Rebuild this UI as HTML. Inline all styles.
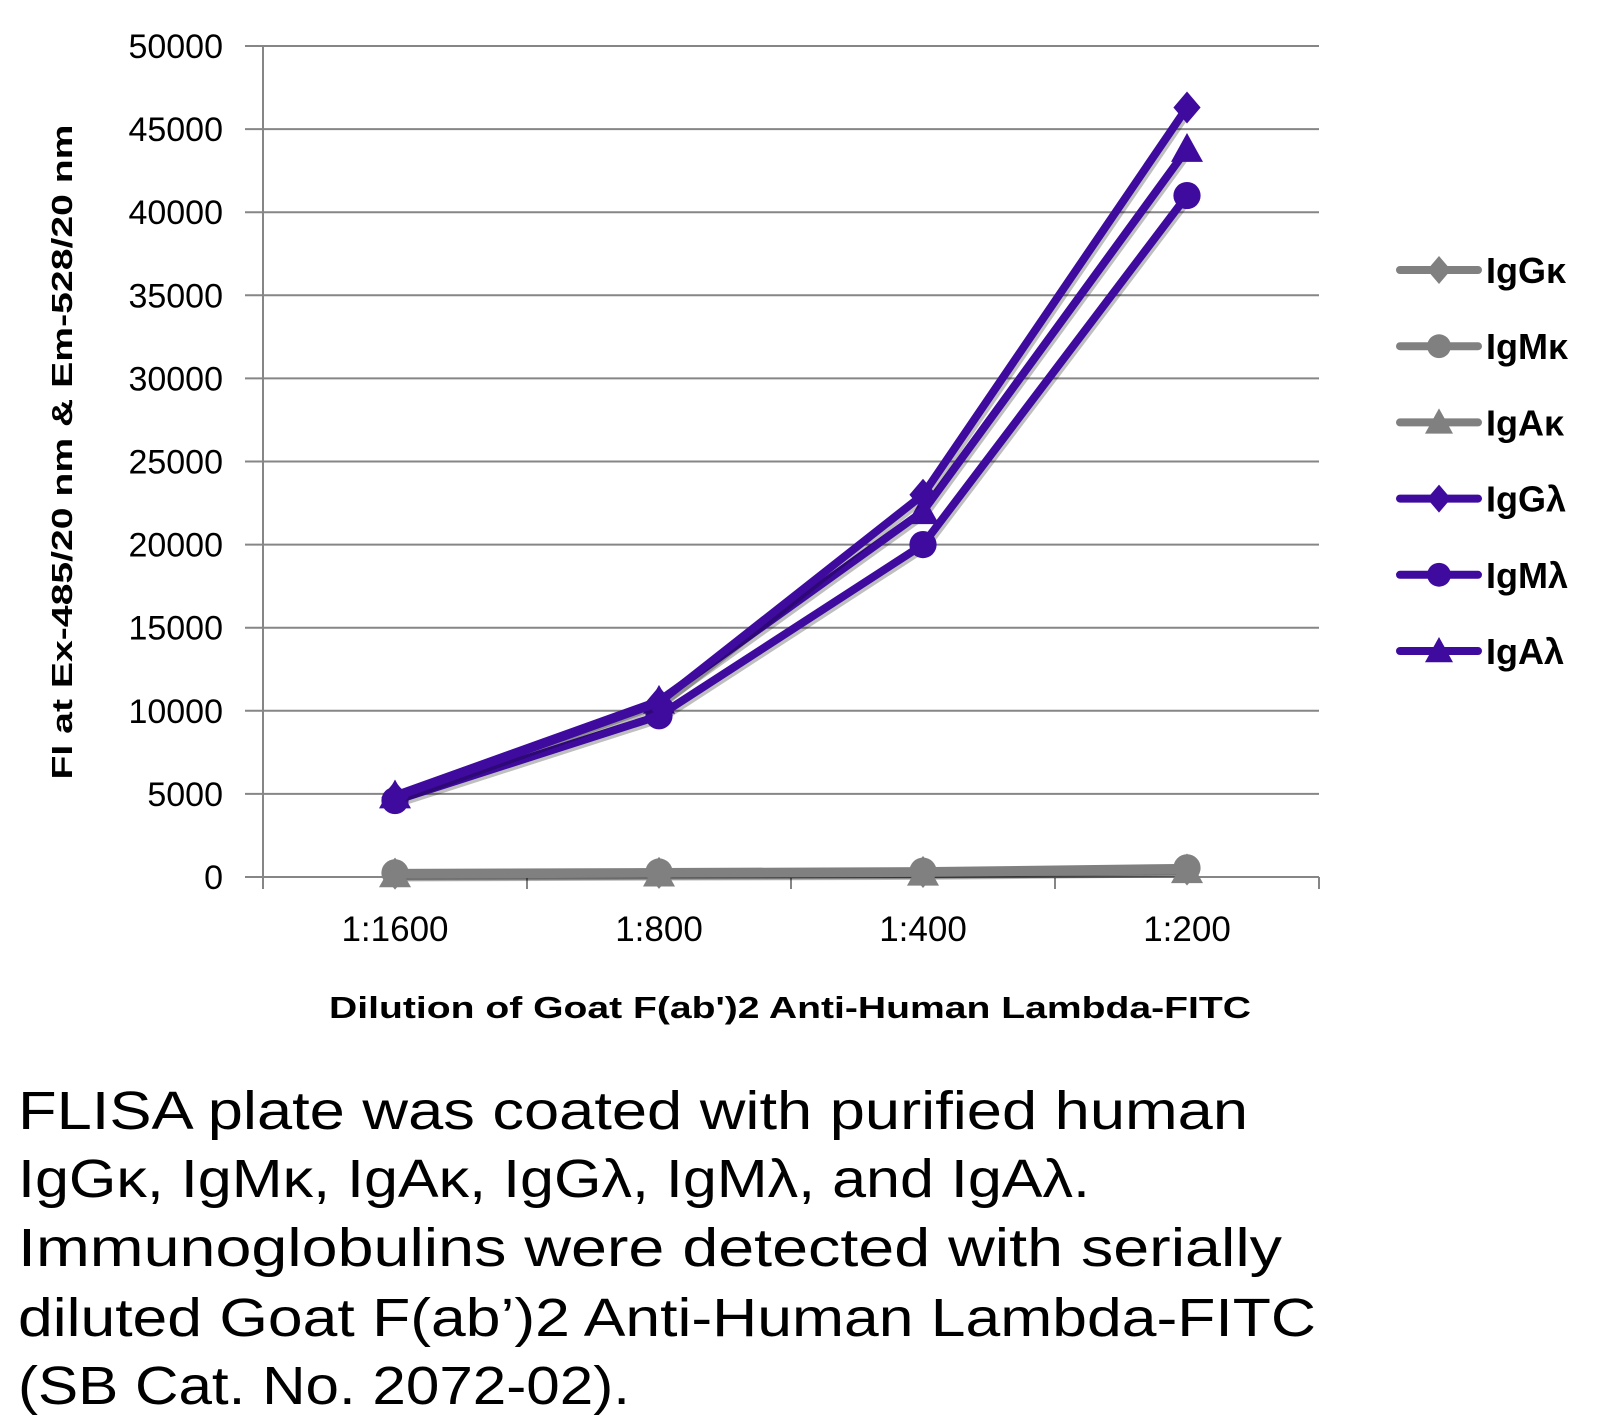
<!DOCTYPE html>
<html><head><meta charset="utf-8"><style>
html,body{margin:0;padding:0;background:#fff}
svg{display:block;font-family:"Liberation Sans",sans-serif}
</style></head><body>
<svg id="chart" width="1604" height="1428" viewBox="0 0 1604 1428" xmlns="http://www.w3.org/2000/svg">
<g id="grid"></g><g id="series"></g><g id="legend"></g>
<text transform="translate(72,452) rotate(-90)" text-anchor="middle" font-size="29" font-weight="bold" textLength="655" lengthAdjust="spacingAndGlyphs">FI at Ex-485/20 nm &amp; Em-528/20 nm</text>
<text x="790" y="1018" text-anchor="middle" font-size="31" font-weight="bold" textLength="922" lengthAdjust="spacingAndGlyphs">Dilution of Goat F(ab')2 Anti-Human Lambda-FITC</text>
<g font-size="54" fill="#000">
<text x="18" y="1129" textLength="1230" lengthAdjust="spacingAndGlyphs">FLISA plate was coated with purified human</text>
<text x="18" y="1197" textLength="1072" lengthAdjust="spacingAndGlyphs">IgGκ, IgMκ, IgAκ, IgGλ, IgMλ, and IgAλ.</text>
<text x="18" y="1266" textLength="1264" lengthAdjust="spacingAndGlyphs">Immunoglobulins were detected with serially</text>
<text x="18" y="1336" textLength="1298" lengthAdjust="spacingAndGlyphs">diluted Goat F(ab’)2 Anti-Human Lambda-FITC</text>
<text x="18" y="1404" textLength="612" lengthAdjust="spacingAndGlyphs">(SB Cat. No. 2072-02).</text>
</g>
</svg>
<script>
const categories = ["1:1600","1:800","1:400","1:200"];
const yTicks = [0,5000,10000,15000,20000,25000,30000,35000,40000,45000,50000];
const seriesNames = ["IgGκ","IgMκ","IgAκ","IgGλ","IgMλ","IgAλ"];
const igGk = [200,250,300,450];
const igMk = [250,300,350,550];
const igAk = [150,200,250,400];
const igGl = [4800,10500,23000,46300];
const igMl = [4600,9700,20000,41000];
const igAl = [4900,10600,22000,43800];
const seriesValues = [igGk,igMk,igAk,igGl,igMl,igAl];

const NS="http://www.w3.org/2000/svg";
const L=263,R=1319,T=46,B=877,yMax=50000;
const y=v=>B-(v/yMax)*(B-T);
const band=(R-L)/categories.length;
const x=i=>L+band*(i+0.5);
function mk(tag,attrs,parent){const e=document.createElementNS(NS,tag);for(const k in attrs)e.setAttribute(k,attrs[k]);parent.appendChild(e);return e;}
const grid=document.getElementById('grid');
yTicks.forEach(t=>{
  const ln=mk('line',{x1:L-18,x2:R,y1:y(t),y2:y(t),stroke:'#868686','stroke-width':2},grid);
  
  
  const tx=mk('text',{x:L-40,y:y(t)+12,'text-anchor':'end','font-size':34,fill:'#000'},grid);
  tx.textContent=t;
  
  
});
const ax=mk('line',{x1:L,x2:L,y1:T,y2:B,stroke:'#868686','stroke-width':2},grid);


for(let i=0;i<=categories.length;i++){
  const tk=mk('line',{x1:L+band*i,x2:L+band*i,y1:B,y2:B+12,stroke:'#868686','stroke-width':2},grid);
  
  
}
categories.forEach((c,i)=>{
  const tx=mk('text',{x:x(i),y:B+64,'text-anchor':'middle','font-size':35,fill:'#000'},grid);
  tx.textContent=c;
  
  
});
const colors=['#808080','#808080','#808080','#3f0b9f','#3f0b9f','#3f0b9f'];
const shapes=['diamond','circle','triangle','diamond','circle','triangle'];
function marker(shape,cx,cy,s,col,parent){
  if(shape==='circle')return mk('circle',{cx:cx,cy:cy,r:s*0.85,fill:col},parent);
  if(shape==='diamond')return mk('polygon',{points:`${cx},${cy-s} ${cx+s*0.85},${cy} ${cx},${cy+s} ${cx-s*0.85},${cy}`,fill:col},parent);
  return mk('polygon',{points:`${cx},${cy-s} ${cx+s},${cy+s*0.8} ${cx-s},${cy+s*0.8}`,fill:col},parent);
}
const sg=document.getElementById('series');
const order=[0,1,2,5,4,3];
order.forEach(si=>{
  const vals=seriesValues[si];
  const g=mk('g',{},sg);
  
  
  const pts=vals.map((v,i)=>x(i)+','+y(v)).join(' ');
  mk('polyline',{points:pts,fill:'none',stroke:'rgba(0,0,0,0.25)','stroke-width':8,transform:'translate(2,3)','stroke-linejoin':'round'},g);
  const pl=mk('polyline',{points:pts,fill:'none',stroke:colors[si],'stroke-width':8,'stroke-linejoin':'round','stroke-linecap':'round'},g);
  
  
  vals.forEach((v,i)=>{
    const m=marker(shapes[si],x(i),y(v),16,colors[si],g);
    
    
  });
});
const lg=document.getElementById('legend');
seriesNames.forEach((n,i)=>{
  const cy=270+i*76.2;
  const g=mk('g',{},lg);
  
  
  mk('line',{x1:1400,x2:1478,y1:cy,y2:cy,stroke:colors[i],'stroke-width':8,'stroke-linecap':'round'},g);
  marker(shapes[i],1439,cy,14,colors[i],g);
  const t=mk('text',{x:1486,y:cy+13,'font-size':36,'font-weight':'bold',fill:'#000'},g);
  t.textContent=n;
});
</script>
</body></html>
